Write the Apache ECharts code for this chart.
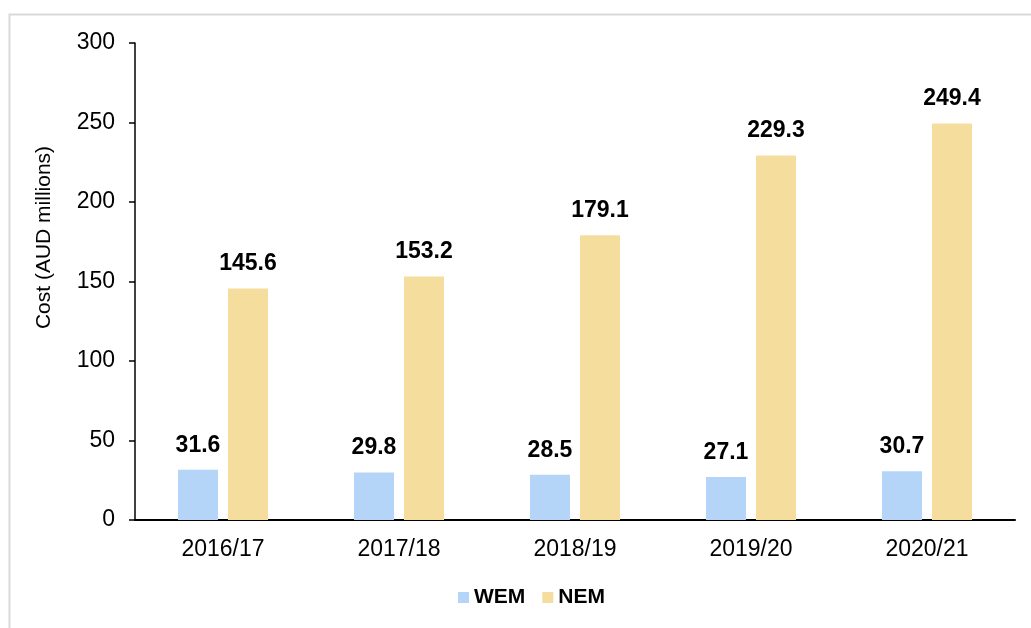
<!DOCTYPE html>
<html>
<head>
<meta charset="utf-8">
<script src="https://cdn.jsdelivr.net/npm/echarts@6/dist/echarts.min.js"></script>
<style>
  html, body { margin: 0; padding: 0; background: #fff; }
  #main { width: 1031px; height: 628px; }
</style>
</head>
<body>
<div id="main"></div>
<script>
// Cost of WEM vs NEM by financial year
var years = ['2016/17', '2017/18', '2018/19', '2019/20', '2020/21'];
var wemCost = [31.6, 29.8, 28.5, 27.1, 30.7];
var nemCost = [145.6, 153.2, 179.1, 229.3, 249.4];

var chart = echarts.init(document.getElementById('main'));

var barLabel = {
    show: true,
    position: 'top',
    distance: 13,
    color: '#000',
    fontWeight: 'bold',
    fontSize: 23,
    fontFamily: 'Liberation Sans, Arial, sans-serif',
    formatter: function (p) { return p.value.toFixed(1); }
};

var option = {
    animation: false,
    textStyle: { fontFamily: 'Liberation Sans, Arial, sans-serif' },
    graphic: [
        {
            type: 'rect',
            shape: { x: 9.5, y: 14.5, width: 1040, height: 640 },
            style: { fill: 'none', stroke: '#d9d9d9', lineWidth: 2 },
            silent: true
        }
    ],
    grid: { left: 135, right: 16, top: 43, bottom: 108 },
    legend: {
        bottom: 15,
        left: 453,
        itemWidth: 11,
        itemHeight: 11,
        itemGap: 17,
        icon: 'rect',
        textStyle: { fontSize: 21, fontWeight: 'bold', color: '#000', padding: [0, 0, 0, 0] },
        data: ['WEM', 'NEM']
    },
    xAxis: {
        type: 'category',
        data: years,
        axisLine: { lineStyle: { color: '#000', width: 2 } },
        axisTick: { show: false },
        axisLabel: { color: '#000', fontSize: 23, margin: 18 }
    },
    yAxis: {
        type: 'value',
        min: 0,
        max: 300,
        interval: 50,
        name: 'Cost (AUD millions)',
        nameLocation: 'middle',
        nameGap: 80,
        nameTextStyle: { color: '#000', fontSize: 21, padding: [0, 0, 0, 88] },
        axisLine: { show: true, lineStyle: { color: '#000', width: 1.5 } },
        axisTick: { show: true, length: 6, lineStyle: { color: '#000', width: 1.5 } },
        axisLabel: { color: '#000', fontSize: 23, margin: 20 },
        splitLine: { show: false }
    },
    series: [
        {
            name: 'WEM',
            type: 'bar',
            data: wemCost,
            barWidth: 40,
            barGap: '25%',
            itemStyle: { color: '#b4d5f8' },
            label: barLabel
        },
        {
            name: 'NEM',
            type: 'bar',
            data: nemCost,
            barWidth: 40,
            itemStyle: { color: '#f5dd9e' },
            label: barLabel
        }
    ]
};

chart.setOption(option);
</script>
</body>
</html>
